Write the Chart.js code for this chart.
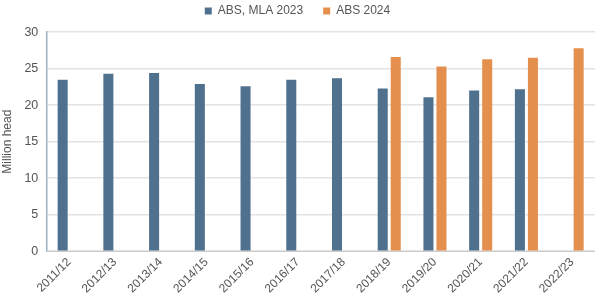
<!DOCTYPE html>
<html><head><meta charset="utf-8">
<script src="https://cdn.jsdelivr.net/npm/chart.js@4"></script>
<style>html,body{margin:0;padding:0;background:#fff}#w{width:595px;height:300px}</style>
</head><body><div id="w"><canvas id="c"></canvas></div>
<script>
const categories = ["2011/12","2012/13","2013/14","2014/15","2015/16","2016/17","2017/18","2018/19","2019/20","2020/21","2021/22","2022/23"];
const absMla2023 = [23.5,24.3,24.4,22.9,22.6,23.5,23.7,22.3,21.1,22.0,22.2,null];
const abs2024 = [null,null,null,null,null,null,null,26.6,25.3,26.3,26.5,27.8];
const yTicks = [0,5,10,15,20,25,30];

Chart.defaults.font.family = "'Liberation Sans', Arial, sans-serif";
Chart.defaults.color = "#555";
new Chart(document.getElementById('c'), {
  type: 'bar',
  data: {
    labels: categories,
    datasets: [
      {label: 'ABS, MLA 2023', data: absMla2023, backgroundColor: '#4f718e', categoryPercentage: 0.57, barPercentage: 0.77},
      {label: 'ABS 2024', data: abs2024, backgroundColor: '#e58f4f', categoryPercentage: 0.57, barPercentage: 0.77}
    ]
  },
  options: {
    responsive: true, maintainAspectRatio: false, animation: false,
    layout: {padding: {top: -15, right: 0, left: 0, bottom: 0}},
    plugins: {
      legend: {
        position: 'top', weight: 3000,
        labels: {usePointStyle: true, pointStyle: 'rect', boxWidth: 7, boxHeight: 7, font: {size: 12}, color: '#555', padding: 20}
      },
      subtitle: {display: true, text: '', font: {size: 1}, padding: {top: 0, bottom: 4}},
      tooltip: {enabled: false}
    },
    scales: {
      x: {
        grid: {display: false, drawTicks: false},
        border: {color: '#cccccc'},
        ticks: {minRotation: 45, maxRotation: 45, font: {size: 12}, color: '#555', padding: 4}
      },
      y: {
        min: 0, max: 30,
        afterBuildTicks: s => { s.ticks = yTicks.map(v => ({value: v})); },
        grid: {color: '#e3e3e3', drawTicks: false, lineWidth: 1.5},
        border: {color: '#9fb0c0', width: 1.5},
        ticks: {font: {size: 12.5}, color: '#555', padding: 8},
        title: {display: true, text: 'Million head', font: {size: 12}, color: '#555', padding: {top: 0, bottom: 2}}
      }
    }
  }
});
</script></body></html>
